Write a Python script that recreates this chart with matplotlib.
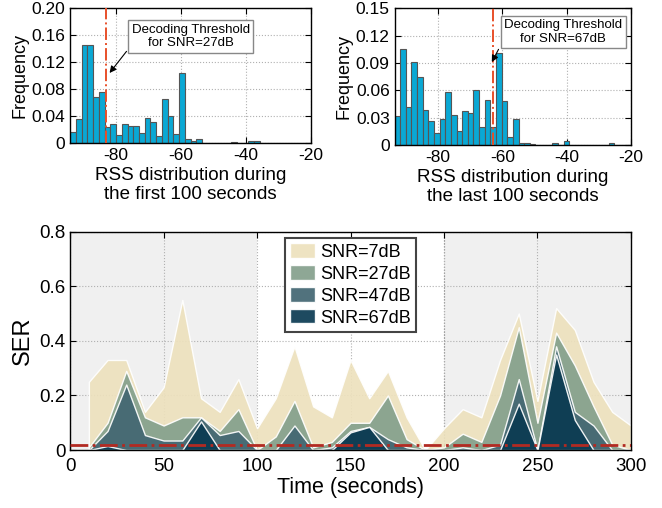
import numpy as np
import matplotlib
matplotlib.use('Agg')
import matplotlib.pyplot as plt

plt.rcParams['font.family'] = ['Liberation Sans', 'DejaVu Sans']
plt.rcParams['axes.unicode_minus'] = False

# histogram data (frequency per RSS bin, 42 bins)
rss_first = [0.017, 0.036, 0.145, 0.146, 0.068, 0.076, 0.024, 0.029, 0.012, 0.028,
             0.025, 0.026, 0.015, 0.037, 0.032, 0.011, 0.065, 0.041, 0.013, 0.104,
             0.006, 0.004, 0.006, 0.001, 0.001, 0.001, 0.0, 0.0, 0.002, 0.0,
             0.0, 0.003, 0.003, 0.0, 0.0, 0.0, 0.0, 0.001, 0.0, 0.0, 0.0, 0.0]
rss_last = [0.0315, 0.105, 0.042, 0.091, 0.075, 0.038, 0.026, 0.013, 0.029, 0.058,
            0.033, 0.015, 0.037, 0.035, 0.060, 0.020, 0.049, 0.020, 0.101, 0.048,
            0.009, 0.029, 0.002, 0.002, 0.001, 0.0, 0.0, 0.0, 0.002, 0.0,
            0.004, 0.0, 0.0, 0.0, 0.0, 0.0, 0.0, 0.0, 0.002, 0.0, 0.0, 0.0]
rss_range_first = (-94, -20)
rss_range_last = (-93.5, -20)
thr_first = -83
thr_last = -63

# SER over time
t = [10, 20, 30, 40, 50, 60, 70, 80, 90, 100, 110, 120, 130, 140, 150,
     160, 170, 180, 190, 200, 210, 220, 230, 240, 250, 260, 270, 280, 290, 300]
ser7 = [0.25, 0.33, 0.33, 0.14, 0.23, 0.55, 0.19, 0.14, 0.26, 0.08, 0.19, 0.38, 0.16, 0.12, 0.33,
        0.19, 0.29, 0.12, 0.0, 0.08, 0.15, 0.12, 0.33, 0.50, 0.18, 0.52, 0.44, 0.25, 0.14, 0.09]
ser27 = [0.01, 0.10, 0.29, 0.12, 0.09, 0.12, 0.12, 0.07, 0.15, 0.0, 0.05, 0.18, 0.01, 0.03, 0.10,
         0.10, 0.20, 0.04, 0.0, 0.01, 0.06, 0.03, 0.20, 0.45, 0.10, 0.43, 0.31, 0.16, 0.02, 0.0]
ser47 = [0.0, 0.07, 0.24, 0.055, 0.035, 0.035, 0.12, 0.055, 0.07, 0.0, 0.0, 0.09, 0.0, 0.01, 0.07,
         0.085, 0.04, 0.01, 0.0, 0.0, 0.01, 0.0, 0.02, 0.26, 0.0, 0.38, 0.14, 0.09, 0.0, 0.0]
ser67 = [0.0, 0.015, 0.0, 0.0, 0.0, 0.0, 0.105, 0.0, 0.0, 0.0, 0.0, 0.0, 0.0, 0.0, 0.065,
         0.085, 0.0, 0.0, 0.0, 0.0, 0.0, 0.0, 0.0, 0.17, 0.0, 0.35, 0.11, 0.0, 0.0, 0.0]
labels = ['SNR=7dB', 'SNR=27dB', 'SNR=47dB', 'SNR=67dB']
colors = ['#EDE1BD', '#84A08C', '#426672', '#0B3A52']
ser_thr = 0.02

fig = plt.figure(figsize=(6.62, 5.08), dpi=100)


def style(ax, size):
    ax.tick_params(direction='in', top=True, right=True, labelsize=size, length=4)
    ax.grid(True, linestyle=':', color='#b0b0b0', linewidth=0.8)
    ax.set_axisbelow(True)
    for s in ax.spines.values():
        s.set_linewidth(1.0)


def hist(ax, vals, rng, thr, ylim, yticks, yticklabels, xlabel, boxxy, boxtext, tip, tail):
    edges = np.linspace(rng[0], rng[1], len(vals) + 1)
    ax.bar(edges[:-1], vals, width=edges[1] - edges[0], align='edge',
           color='#0AA8D4', edgecolor='#555555', linewidth=0.8, zorder=2)
    ax.axvline(thr, color='#E8502A', linestyle='-.', linewidth=1.4, zorder=3)
    ax.set_xlim(rng)
    ax.set_ylim(ylim)
    ax.set_xticks([-80, -60, -40, -20])
    ax.set_yticks(yticks)
    ax.set_yticklabels(yticklabels)
    ax.set_ylabel('Frequency', fontsize=13, labelpad=2)
    ax.set_xlabel(xlabel, fontsize=13.5, linespacing=1.12, labelpad=3)
    style(ax, 12.5)
    ax.text(boxxy[0], boxxy[1], boxtext, fontsize=9.5, ha='center', va='center',
            multialignment='center', zorder=5,
            bbox=dict(boxstyle='square,pad=0.25', facecolor='white', edgecolor='#888888', linewidth=1))
    ax.annotate('', xy=tip, xytext=tail, zorder=5,
                arrowprops=dict(arrowstyle='-|>', color='black', lw=0.8, mutation_scale=10,
                                shrinkA=0, shrinkB=0))


ax1 = fig.add_axes([0.106, 0.718, 0.364, 0.266])
hist(ax1, rss_first, rss_range_first, thr_first, (0, 0.2),
     [0, 0.04, 0.08, 0.12, 0.16, 0.2], ['0', '0.04', '0.08', '0.12', '0.16', '0.20'],
     'RSS distribution during\nthe first 100 seconds',
     (-57.0, 0.158), 'Decoding Threshold\nfor SNR=27dB', (-81.9, 0.104), (-76.7, 0.136))

ax2 = fig.add_axes([0.596, 0.7146, 0.3575, 0.269])
hist(ax2, rss_last, rss_range_last, thr_last, (0, 0.15),
     [0, 0.03, 0.06, 0.09, 0.12, 0.15], ['0', '0.03', '0.06', '0.09', '0.12', '0.15'],
     'RSS distribution during\nthe last 100 seconds',
     (-41.1, 0.124), 'Decoding Threshold\nfor SNR=67dB', (-63.3, 0.091), (-61.2, 0.105))

ax3 = fig.add_axes([0.106, 0.114, 0.847, 0.43])
ax3.axvspan(0, 100, color='#F0F0F0', zorder=0, linewidth=0)
ax3.axvspan(200, 300, color='#F0F0F0', zorder=0, linewidth=0)
ax3.axvline(200, color='#555555', linestyle=':', linewidth=0.8, zorder=0.5)
for vals, c, lab in zip([ser7, ser27, ser47, ser67], colors, labels):
    ax3.fill_between(t, 0, vals, facecolor=c, edgecolor='white', linewidth=1.0,
                     alpha=0.92, label=lab, zorder=2)
ax3.axhline(ser_thr, color='#B22A22', linestyle='-.', linewidth=2, zorder=3)
ax3.set_xlim(0, 300)
ax3.set_ylim(0, 0.8)
ax3.set_xticks([0, 50, 100, 150, 200, 250, 300])
ax3.set_yticks([0, 0.2, 0.4, 0.6, 0.8])
ax3.set_yticklabels(['0', '0.2', '0.4', '0.6', '0.8'])
style(ax3, 13.5)
ax3.tick_params(axis='x', pad=6)
ax3.set_xlabel('Time (seconds)', fontsize=15.5, labelpad=1)
ax3.set_ylabel('SER', fontsize=17, labelpad=4)
leg = ax3.legend(loc='upper center', bbox_to_anchor=(0.5, 0.972), fontsize=13,
                 fancybox=False, framealpha=1, edgecolor='#444444',
                 handlelength=1.35, handleheight=0.85, labelspacing=0.25,
                 handletextpad=0.3, borderpad=0.3, borderaxespad=0)
leg.get_frame().set_linewidth(1.5)
leg.set_zorder(10)

fig.savefig('out.png', dpi=100)
